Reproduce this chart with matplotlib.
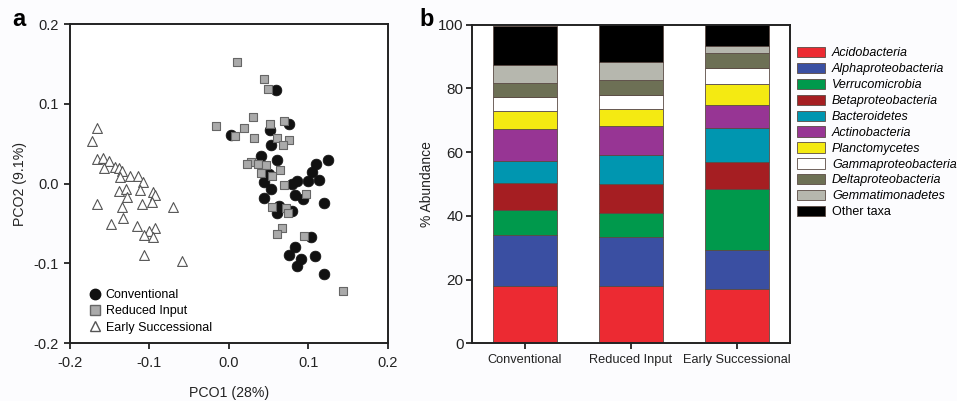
import numpy as np
import matplotlib.pyplot as plt
from matplotlib.patches import Patch
from matplotlib.lines import Line2D

plt.rcParams['font.family'] = ['Liberation Sans', 'DejaVu Sans']

# ---- panel a: PCO ordination ----
conv_x = [0.059, 0.076, 0.052, 0.003, 0.053, 0.040, 0.061, 0.124, 0.110, 0.104, 0.050,
          0.113, 0.099, 0.086, 0.044, 0.079, 0.053, 0.083, 0.093, 0.044, 0.119, 0.063,
          0.060, 0.079, 0.103, 0.083, 0.076, 0.108, 0.091, 0.085, 0.119]
conv_y = [0.117, 0.075, 0.067, 0.061, 0.048, 0.034, 0.029, 0.029, 0.025, 0.015, 0.012,
          0.005, 0.003, 0.003, 0.002, -0.001, -0.007, -0.015, -0.019, -0.018, -0.024, -0.028,
          -0.037, -0.034, -0.067, -0.079, -0.090, -0.091, -0.095, -0.103, -0.113]

red_x = [0.010, 0.044, 0.049, 0.030, -0.016, 0.051, 0.069, 0.019, 0.007, 0.032, 0.060,
         0.076, 0.068, 0.028, 0.023, 0.037, 0.047, 0.064, 0.040, 0.054, 0.069, 0.097,
         0.054, 0.072, 0.074, 0.067, 0.060, 0.094, 0.143]
red_y = [0.152, 0.131, 0.118, 0.084, 0.072, 0.075, 0.079, 0.069, 0.060, 0.057, 0.057,
         0.055, 0.048, 0.027, 0.024, 0.024, 0.023, 0.017, 0.013, 0.009, -0.002, -0.013,
         -0.029, -0.031, -0.037, -0.056, -0.063, -0.066, -0.135]

early_x = [-0.166, -0.172, -0.166, -0.159, -0.151, -0.157, -0.143, -0.138, -0.135, -0.137,
           -0.125, -0.114, -0.108, -0.138, -0.129, -0.112, -0.128, -0.095, -0.093, -0.166,
           -0.134, -0.109, -0.097, -0.071, -0.133, -0.148, -0.116, -0.093, -0.101, -0.107,
           -0.095, -0.107, -0.059]
early_y = [0.069, 0.053, 0.031, 0.032, 0.028, 0.020, 0.021, 0.019, 0.016, 0.008,
           0.010, 0.009, 0.002, -0.009, -0.007, -0.008, -0.017, -0.011, -0.015, -0.026,
           -0.030, -0.026, -0.023, -0.030, -0.043, -0.051, -0.053, -0.056, -0.060, -0.065,
           -0.067, -0.090, -0.097]

# ---- panel b: relative abundance ----
sites = ['Conventional', 'Reduced Input', 'Early Successional']
taxa = ['Acidobacteria', 'Alphaproteobacteria', 'Verrucomicrobia', 'Betaproteobacteria',
        'Bacteroidetes', 'Actinobacteria', 'Planctomycetes', 'Gammaproteobacteria',
        'Deltaproteobacteria', 'Gemmatimonadetes', 'Other taxa']
abundance = {
    'Conventional':       [17.9, 16.2, 7.6, 8.6, 6.9, 10.1, 5.7, 4.4, 4.3, 5.5, 12.2],
    'Reduced Input':      [17.9, 15.3, 7.7, 9.0, 9.2, 9.2, 5.3, 4.4, 4.7, 5.4, 11.9],
    'Early Successional': [17.1, 12.1, 19.1, 8.5, 10.8, 7.0, 6.7, 5.0, 4.9, 2.1, 6.7],
}
taxa_colors = ['#ec2a32', '#3a4fa2', '#00994c', '#a51e22', '#0096b0', '#973594',
               '#f4ea12', '#ffffff', '#6d7055', '#b6b7ae', '#000000']

fig = plt.figure(figsize=(9.57, 4.01), dpi=100)
fig.patch.set_facecolor('#fcfcfe')

ax1 = fig.add_axes([0.0731, 0.1446, 0.3323, 0.7955])
ax1.scatter(early_x, early_y, marker='^', s=50, facecolor='white', edgecolor='#555555', linewidth=0.8)
ax1.scatter(conv_x, conv_y, marker='o', s=60, facecolor='#111111', edgecolor='#111111', linewidth=0.5)
ax1.scatter(red_x, red_y, marker='s', s=40, facecolor='#aaaaaa', edgecolor='#666666', linewidth=0.8)
ax1.set_xlim(-0.2, 0.2)
ax1.set_ylim(-0.2, 0.2)
ax1.set_xticks([-0.2, -0.1, 0.0, 0.1, 0.2])
ax1.set_yticks([-0.2, -0.1, 0.0, 0.1, 0.2])
ax1.set_xticklabels(['-0.2', '-0.1', '0.0', '0.1', '0.2'])
ax1.set_yticklabels(['-0.2', '-0.1', '0.0', '0.1', '0.2'])
ax1.set_xlabel('PCO1 (28%)', fontsize=10.2, color='#222222', labelpad=12)
ax1.set_ylabel('PCO2 (9.1%)', fontsize=10.2, color='#222222', labelpad=5)
ax1.set_facecolor('white')

leg_a = [Line2D([], [], marker='o', ls='none', ms=7.5, mfc='#111111', mec='#111111'),
         Line2D([], [], marker='s', ls='none', ms=6.5, mfc='#aaaaaa', mec='#666666'),
         Line2D([], [], marker='^', ls='none', ms=7, mfc='white', mec='#555555')]
ax1.legend(leg_a, ['Conventional', 'Reduced Input', 'Early Successional'],
           loc='upper left', bbox_to_anchor=(90 / 957, (401 - 289) / 401),
           bbox_transform=fig.transFigure, frameon=False, fontsize=9,
           handlelength=0.8, handletextpad=0.45, labelspacing=0.35,
           borderpad=0, borderaxespad=0)

ax2 = fig.add_axes([0.4932, 0.1439, 0.3323, 0.7950])
x = np.arange(len(sites))
bottom = np.zeros(len(sites))
for i, name in enumerate(taxa):
    vals = np.array([abundance[s][i] for s in sites])
    ax2.bar(x, vals, 0.6, bottom=bottom, color=taxa_colors[i],
            edgecolor='#5a4a44', linewidth=0.6)
    bottom += vals
ax2.set_xlim(-0.5, 2.5)
ax2.set_ylim(0, 100)
ax2.set_xticks(x)
ax2.set_xticklabels(sites)
ax2.set_yticks([0, 20, 40, 60, 80, 100])
ax2.set_ylabel('% Abundance', fontsize=10, color='#222222', labelpad=3)
ax2.set_facecolor('white')

handles = [Patch(facecolor=c, edgecolor='#5a4a44', linewidth=0.6) for c in taxa_colors]
leg = ax2.legend(handles, taxa, loc='upper left', bbox_to_anchor=(797 / 957, (401 - 47) / 401),
                 bbox_transform=fig.transFigure, frameon=False, fontsize=9,
                 handlelength=2.2, handleheight=0.9, handletextpad=0.6,
                 labelspacing=0.27, borderpad=0, borderaxespad=0)
for t in leg.get_texts()[:-1]:
    t.set_style('italic')

for ax in (ax1, ax2):
    for sp in ax.spines.values():
        sp.set_linewidth(1.4)
        sp.set_color('#222222')
    ax.tick_params(direction='out', length=4, width=1.3, color='#222222',
                   labelcolor='#222222', top=False, right=False)
ax1.tick_params(labelsize=10.5, pad=4)
ax1.tick_params(axis='x', pad=5)
ax2.tick_params(axis='y', labelsize=11, pad=2)
ax2.tick_params(axis='x', labelsize=9.2, pad=4)

fig.text(12 / 957, 1 - 20 / 401, 'a', fontsize=17, fontweight='bold', va='center', ha='left')
fig.text(419 / 957, 1 - 20 / 401, 'b', fontsize=17, fontweight='bold', va='center', ha='left')

fig.savefig('out.png', dpi=100, facecolor=fig.get_facecolor())
